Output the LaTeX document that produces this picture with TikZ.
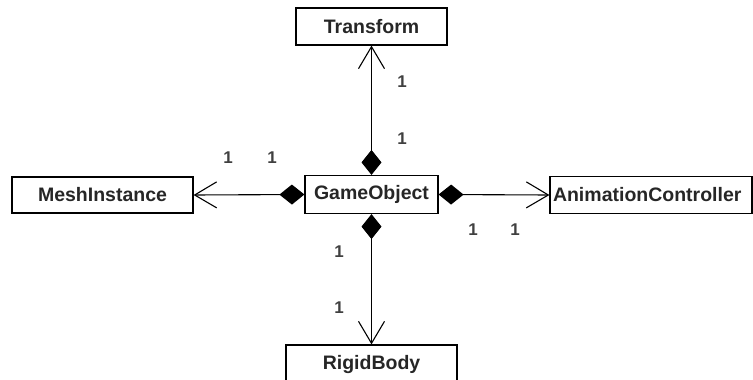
\documentclass[tikz,border=0pt]{standalone}
\usepackage{fontspec}
\setmainfont{Liberation Sans}
\usetikzlibrary{arrows.meta}
\begin{document}
\begin{tikzpicture}[x=1pt,y=-1pt,
  cls/.style={draw, line width=1.2pt, inner sep=0pt, font=\fontsize{19.5}{22}\selectfont\bfseries, text=black!85},
  mult/.style={font=\fontsize{17}{19}\selectfont\bfseries, text=black!75, inner sep=0pt},
  comp/.style={line width=1.1pt, {Diamond[length=25pt,width=20pt]}-{Straight Barb[length=22pt,width=26pt,line width=1.1pt]}}]
\useasboundingbox (0,0) rectangle (753,380);
\node[cls, minimum width=151pt, minimum height=37pt] (tr) at (371.5,26.5) {Transform};
\node[cls, minimum width=133pt, minimum height=38pt] (go) at (371.5,194.5) {GameObject};
\node[cls, minimum width=181pt, minimum height=36pt] (mi) at (102.5,195) {MeshInstance};
\node[cls, minimum width=202pt, minimum height=37pt, text width=196pt, align=left] (ac) at (651,195) {AnimationController};
\node[cls, minimum width=171pt, minimum height=40pt] (rb) at (371.5,365) {\raisebox{5pt}{RigidBody}};
\draw[comp] (go.north) -- (tr.south);
\draw[comp] (go.west) -- (mi.east);
\draw[comp] (go.east) -- (ac.west);
\draw[comp] (go.south) -- (rb.north);
\node[mult] (m1) at (402,82) {1};
\node[mult] (m2) at (402,139) {1};
\node[mult] (m3) at (228,158) {1};
\node[mult] (m4) at (272,158) {1};
\node[mult] (m5) at (473,230) {1};
\node[mult] (m6) at (515,230) {1};
\node[mult] (m7) at (339,252) {1};
\node[mult] (m8) at (339,308) {1};
\end{tikzpicture}
\end{document}
